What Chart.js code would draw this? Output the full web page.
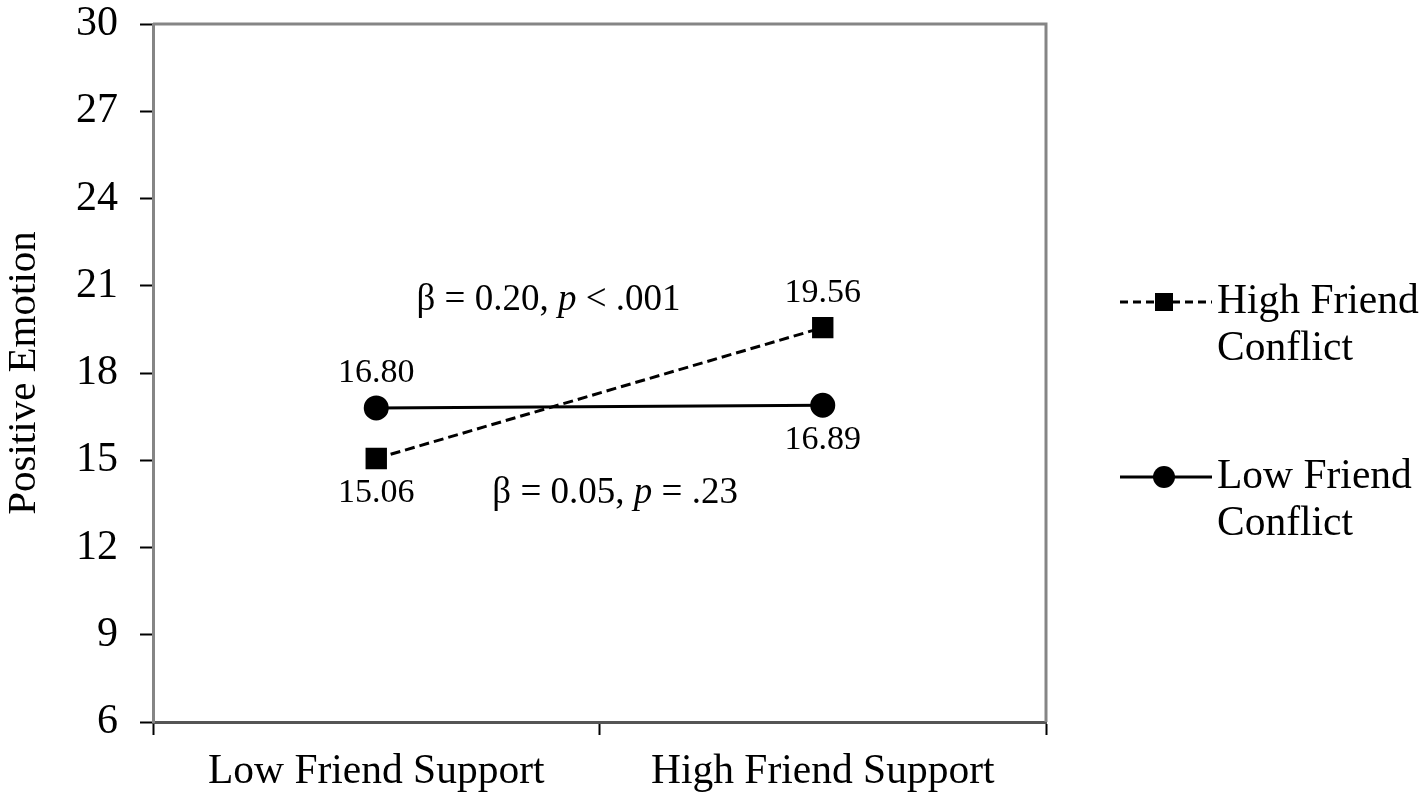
<!DOCTYPE html>
<html lang="en">
<head>
  <meta charset="UTF-8">
  <title>Positive Emotion</title>
  <script src="https://cdn.jsdelivr.net/npm/chart.js"></script>
  <style>
    body { margin: 0; background: #fff; }
  </style>
</head>
<body>
  <canvas id="emoChart" width="1421" height="796"></canvas>

  <script>
    // data
    const categories = ["Low Friend Support", "High Friend Support"];
    const seriesNames = ["High Friend Conflict", "Low Friend Conflict"];
    const highConflict = [15.06, 19.56];
    const lowConflict = [16.80, 16.89];
    const yTicks = [6, 9, 12, 15, 18, 21, 24, 27, 30];
    const slopeNotes = [
      [["β = 0.20, ", false], ["p", true], [" < .001", false]],
      [["β = 0.05, ", false], ["p", true], [" = .23", false]]
    ];

    const SERIF = "'Liberation Serif', 'Times New Roman', serif";
    Chart.defaults.font.family = SERIF;
    Chart.defaults.color = "#000";

    // where each value label sits relative to its point
    const labelSide = [["below", "above"], ["above", "below"]];

    const valueLabels = {
      id: "valueLabels",
      afterDatasetsDraw(chart) {
        const ctx = chart.ctx;
        ctx.save();
        ctx.font = "34px " + SERIF;
        ctx.fillStyle = "#000";
        ctx.textAlign = "center";
        ctx.textBaseline = "middle";
        chart.data.datasets.forEach((ds, i) => {
          chart.getDatasetMeta(i).data.forEach((pt, j) => {
            const dy = labelSide[i][j] === "above" ? -35 : 35;
            ctx.fillText(ds.data[j].toFixed(2), pt.x, pt.y + dy);
          });
        });

        // slope notes, placed with the scales
        const xs = chart.scales.x, ys = chart.scales.y;
        const spots = [
          [xs.getPixelForValue(0.09), ys.getPixelForValue(20.5)],
          [xs.getPixelForValue(0.26), ys.getPixelForValue(13.87)]
        ];
        ctx.textAlign = "left";
        slopeNotes.forEach((parts, k) => {
          let x = spots[k][0];
          const y = spots[k][1];
          parts.forEach(([txt, ital]) => {
            ctx.font = (ital ? "italic " : "") + "37px " + SERIF;
            ctx.fillText(txt, x, y);
            x += ctx.measureText(txt).width;
          });
        });
        ctx.restore();
      }
    };

    const frameAndLegend = {
      id: "frameAndLegend",
      beforeDatasetsDraw(chart) {
        const { ctx, chartArea: a } = chart;
        ctx.save();
        ctx.strokeStyle = "#858585";
        ctx.lineWidth = 3;
        ctx.beginPath();
        ctx.moveTo(a.left, a.top);
        ctx.lineTo(a.right, a.top);
        ctx.lineTo(a.right, a.bottom);
        ctx.stroke();
        ctx.restore();
      },
      afterDraw(chart) {
        const ctx = chart.ctx;
        ctx.save();
        ctx.fillStyle = "#000";
        ctx.strokeStyle = "#000";
        ctx.lineWidth = 3;
        ctx.font = "41.5px " + SERIF;
        ctx.textBaseline = "middle";
        ctx.textAlign = "left";

        const items = [
          { y: 302, dash: [8, 5], shape: "square" },
          { y: 477, dash: [], shape: "circle" }
        ];
        items.forEach((it, i) => {
          ctx.setLineDash(it.dash);
          ctx.beginPath();
          ctx.moveTo(1120, it.y);
          ctx.lineTo(1212, it.y);
          ctx.stroke();
          ctx.setLineDash([]);
          if (it.shape === "square") {
            ctx.fillRect(1155, it.y - 9, 18, 18);
          } else {
            ctx.beginPath();
            ctx.arc(1164, it.y, 11, 0, Math.PI * 2);
            ctx.fill();
          }
          const words = seriesNames[i].split(" ");
          ctx.fillText(words.slice(0, 2).join(" "), 1217, it.y);
          ctx.fillText(words.slice(2).join(" "), 1217, it.y + 47);
        });
        ctx.restore();
      }
    };

    new Chart(document.getElementById("emoChart"), {
      type: "line",
      data: {
        labels: categories,
        datasets: [
          {
            label: seriesNames[0],
            data: highConflict,
            borderColor: "#000",
            backgroundColor: "#000",
            borderWidth: 3,
            borderDash: [10, 5],
            pointStyle: "rect",
            pointRadius: 13,
            pointHoverRadius: 13
          },
          {
            label: seriesNames[1],
            data: lowConflict,
            borderColor: "#000",
            backgroundColor: "#000",
            borderWidth: 3,
            pointStyle: "circle",
            pointRadius: 11,
            pointHoverRadius: 11
          }
        ]
      },
      options: {
        responsive: false,
        animation: false,
        devicePixelRatio: 1,
        layout: { padding: { top: 24, right: 375, bottom: 0, left: 0 } },
        plugins: {
          legend: { display: false },
          tooltip: { enabled: false }
        },
        scales: {
          x: {
            offset: true,
            grid: {
              offset: true,
              drawOnChartArea: false,
              tickColor: "#000",
              tickLength: 13,
              tickWidth: 2
            },
            border: { color: "#555", width: 3 },
            ticks: { font: { size: 41.5 }, color: "#000", padding: 12 },
            afterFit(scale) { scale.height = 74; }
          },
          y: {
            min: 6,
            max: 30,
            afterBuildTicks(scale) { scale.ticks = yTicks.map(v => ({ value: v })); },
            grid: {
              drawOnChartArea: false,
              tickColor: "#000",
              tickLength: 13,
              tickWidth: 2
            },
            border: { color: "#858585", width: 3 },
            ticks: { font: { size: 42 }, color: "#000", padding: 22 },
            title: {
              display: true,
              text: "Positive Emotion",
              font: { size: 41 },
              color: "#000",
              padding: { top: 0, bottom: 0 }
            },
            afterFit(scale) {
              scale.width = 153;
              scale.paddingTop = 0;
              scale.paddingBottom = 0;
            }
          }
        }
      },
      plugins: [frameAndLegend, valueLabels]
    });
  </script>
</body>
</html>
